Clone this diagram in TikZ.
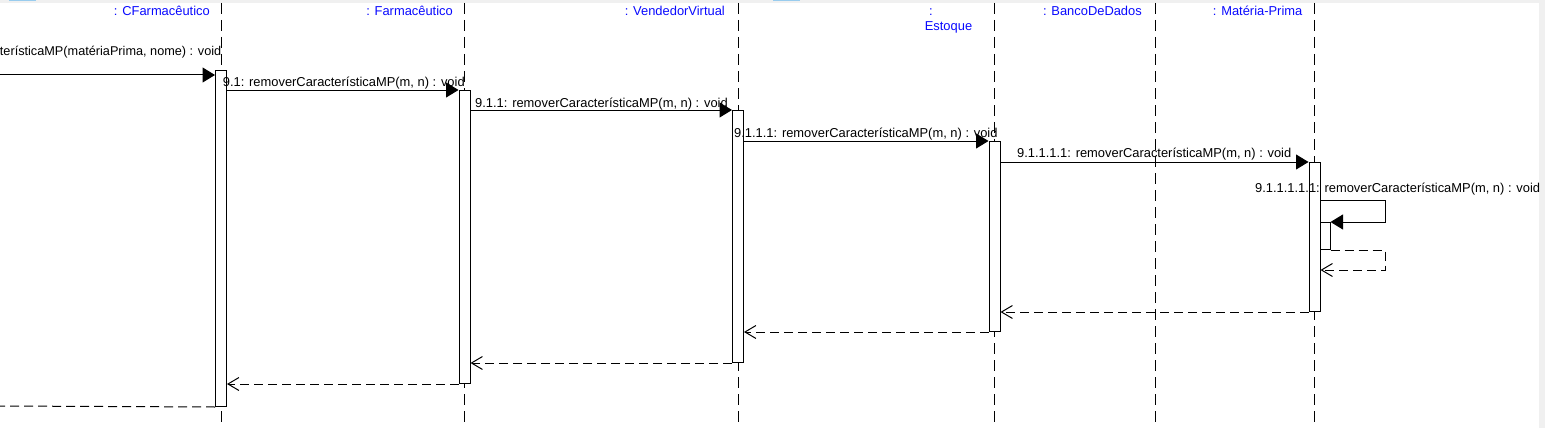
\documentclass[tikz,border=0pt]{standalone}
\usepackage{fontspec}
\setmainfont{Liberation Sans}
\usetikzlibrary{arrows.meta}
\definecolor{headblue}{RGB}{10,10,255}
\definecolor{bandgray}{RGB}{240,240,240}
\definecolor{selblue}{RGB}{153,204,238}
\begin{document}
\begin{tikzpicture}[x=1pt,y=-1pt,
  lifeline/.style={line width=1pt, dash pattern=on 11pt off 6pt},
  act/.style={draw, fill=white, line width=1pt, inner sep=0pt, minimum width=11pt, anchor=north},
  call/.style={line width=1pt, -{Triangle[length=12.5pt,width=15pt]}},
  retline/.style={line width=1pt, dash pattern=on 9pt off 5pt},
  ret/.style={retline, -{Straight Barb[length=11pt,width=13pt]}},
  head/.style={text=headblue, font=\fontsize{12.9}{15}\selectfont, inner sep=0pt},
  msg/.style={font=\fontsize{12.9}{15}\selectfont, inner sep=0pt, anchor=base west}]
\useasboundingbox (0,0) rectangle (1545,428);
\fill[white] (0,0) rectangle (1545,428);
\clip (0,0) rectangle (1545,428);
\fill[bandgray] (0,0) rectangle (1545,3);
\fill[bandgray] (1539,0) rectangle (1545,428);
\fill[selblue] (9,0) rectangle (36,1.5);
\fill[selblue] (773,0) rectangle (800,1.5);
% lifelines
\foreach \n/\x in {CF/221,F/464.5,VV/738,E/994.5,BD/1155,MP/1314.5}{
  \coordinate (top\n) at (\x,3);
  \coordinate (bot\n) at (\x,428);
  \draw[lifeline] (top\n) -- (bot\n);
}
% heads
\node[head, anchor=base east] (hCF) at (210,16) {: CFarmacêutico};
\node[head, anchor=base east] (hF) at (453,16) {: Farmacêutico};
\node[head, anchor=base east] (hVV) at (725,16) {: VendedorVirtual};
\node[head, anchor=base] (hE1) at (931,16) {:};
\node[head, anchor=base] (hE2) at (948.5,31) {Estoque};
\node[head, anchor=base east] (hBD) at (1142,16) {: BancoDeDados};
\node[head, anchor=base east] (hMP) at (1302.5,16) {: Matéria-Prima};
% activations
\node[act, minimum height=336pt] (aCF) at (topCF |- 0,70) {};
\node[act, minimum height=293pt] (aF) at (topF |- 0,90) {};
\node[act, minimum height=252pt] (aVV) at (topVV |- 0,110) {};
\node[act, minimum height=190pt] (aE) at (topE |- 0,141) {};
\node[act, minimum height=149pt] (aMP) at (topMP |- 0,162) {};
% calls
\coordinate (in9) at (-10,75);
\draw[call] (in9) -- (in9 -| aCF.west);
\draw[call] (aCF.east |- aF.north) -- (aF.north west);
\draw[call] (aF.east |- aVV.north) -- (aVV.north west);
\draw[call] (aVV.east |- aE.north) -- (aE.north west);
\draw[call] (aE.east |- aMP.north) -- (aMP.north west);
% self call
\node[act, minimum width=10pt, minimum height=27pt] (aMP2) at (1325,222) {};
\coordinate (selfR) at (1385,200);
\coordinate (selfR2) at (1385,270);
\draw[call] (aMP.east |- selfR) -- (selfR) |- (aMP2.north east);
\draw[ret] (aMP2.south east) -- (aMP2.south east -| selfR2) -- (selfR2) -- (selfR2 -| aMP.east);
% returns
\draw[ret] (aMP.south west) -- (aMP.south west -| aE.east);
\draw[ret] (aE.south west) -- (aE.south west -| aVV.east);
\draw[ret] (aVV.south west) -- (aVV.south west -| aF.east);
\draw[ret] (aF.south west) -- (aF.south west -| aCF.east);
\coordinate (out9) at (0,406);
\draw[retline] (aCF.south west) -- (out9);
% labels
\node[msg, anchor=base east, font=\fontsize{12.7}{15}\selectfont] (l9) at (221.5,56) {terísticaMP(matériaPrima, nome) : void};
\node[msg] (l91) at (222.7,87) {9.1: removerCaracterísticaMP(m, n) : void};
\node[msg] (l911) at (475,107) {9.1.1: removerCaracterísticaMP(m, n) : void};
\node[msg] (l9111) at (734,137) {9.1.1.1: removerCaracterísticaMP(m, n) : void};
\node[msg] (l91111) at (1017,157) {9.1.1.1.1: removerCaracterísticaMP(m, n) : void};
\node[msg] (l911111) at (1255,192) {9.1.1.1.1.1: removerCaracterísticaMP(m, n) : void};
\end{tikzpicture}
\end{document}
